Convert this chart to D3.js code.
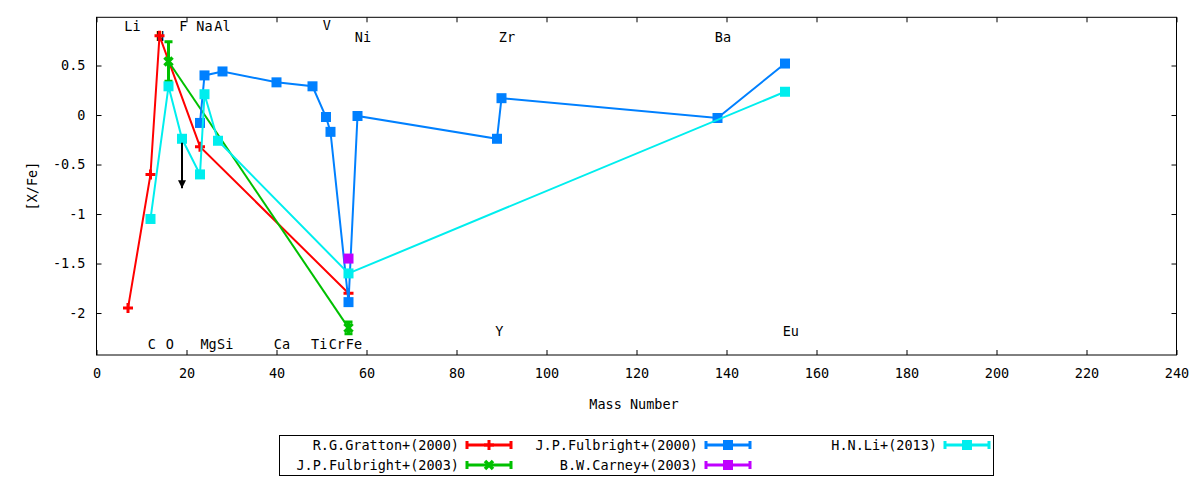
<!DOCTYPE html>
<html>
<head>
<meta charset="utf-8">
<script src="https://cdn.jsdelivr.net/npm/d3@7"></script>
<style>
  body { margin: 0; background: #fff; }
  text { font-family: "DejaVu Sans Mono", monospace; font-size: 13.5px; fill: #000; }
</style>
</head>
<body>
<script>
// Series: mass number vs [X/Fe]
var grattonMass = [7, 12, 14, 23, 56];
var grattonXFe  = [-1.95, -0.60, 0.80, -0.32, -1.80];
var grattonErr  = [0, 0, 0, 0, 0];

var fulbright03Mass = [16, 56];
var fulbright03XFe  = [0.54, -2.15];
var fulbright03Err  = [0.20, 0.06];

var fulbright00Mass = [23, 24, 28, 40, 48, 51, 52, 56, 58, 89, 90, 138, 153];
var fulbright00XFe  = [-0.08, 0.40, 0.44, 0.33, 0.29, -0.02, -0.17, -1.89, -0.01, -0.24, 0.17, -0.03, 0.52];
var fulbright00Err  = [0, 0, 0, 0, 0, 0, 0, 0, 0, 0, 0, 0, 0];

var carneyMass = [56];
var carneyXFe  = [-1.45];
var carneyErr  = [0];

var liMass = [12, 16, 19, 23, 24, 27, 56, 153];
var liXFe  = [-1.05, 0.29, -0.24, -0.60, 0.21, -0.26, -1.60, 0.235];
var liErr  = [0, 0, 0, 0, 0, 0, 0, 0];

// upper limit arrow (F, H.N.Li+2013)
var arrowMass = 19;
var arrowFrom = -0.28;
var arrowTo = -0.74;

// element labels (data coordinates)
var elemNames = ["Li", "N", "F", "Na", "Al", "V", "Ni", "Zr", "Ba",
                 "C", "O", "Mg", "Si", "Ca", "Ti", "Cr", "Fe", "Y", "Eu"];
var elemX = [8.0, 14.1, 19.3, 24.0, 28.0, 51.2, 59.2, 91.2, 139.2,
             12.3, 16.3, 24.9, 28.6, 41.2, 49.5, 53.4, 57.2, 89.5, 154.3];
var elemY = [0.90, 0.80, 0.90, 0.90, 0.90, 0.91, 0.79, 0.79, 0.79,
             -2.32, -2.32, -2.32, -2.32, -2.32, -2.32, -2.32, -2.32, -2.18, -2.18];

var xTicks = d3.range(0, 241, 20);
var yTicks = [-2, -1.5, -1, -0.5, 0, 0.5];

function init() {
    var width = 1200, height = 480;
    var left = 96.5, right = 1176.5, top = 17.3, bottom = 355;

    var svg = d3.select("body").append("svg")
        .attr("width", width)
        .attr("height", height);

    var x = d3.scaleLinear().domain([0, 240]).range([left, right]);
    var y = d3.scaleLinear().domain([-2.424, 0.987]).range([bottom, top]);

    // axes with inward ticks, mirrored on top/right
    var gx = svg.append("g").attr("transform", "translate(0," + bottom + ")")
        .call(d3.axisBottom(x).tickValues(xTicks).tickSize(-5).tickSizeOuter(0)
            .tickPadding(13).tickFormat(d => String(d)));
    var gy = svg.append("g").attr("transform", "translate(" + left + ",0)")
        .call(d3.axisLeft(y).tickValues(yTicks).tickSize(-5).tickSizeOuter(0)
            .tickPadding(11).tickFormat(d => String(d)));
    var gt = svg.append("g").attr("transform", "translate(0," + top + ")")
        .call(d3.axisTop(x).tickValues(xTicks).tickSize(-5).tickSizeOuter(0).tickFormat(""));
    var gr = svg.append("g").attr("transform", "translate(" + right + ",0)")
        .call(d3.axisRight(y).tickValues(yTicks).tickSize(-5).tickSizeOuter(0).tickFormat(""));
    [gx, gy, gt, gr].forEach(function(g) {
        g.select(".domain").remove();
        g.selectAll("line").attr("stroke", "#000");
        g.selectAll("text").attr("font-family", null).attr("font-size", null);
    });

    svg.append("rect")
        .attr("x", left).attr("y", top)
        .attr("width", right - left).attr("height", bottom - top)
        .attr("fill", "none").attr("stroke", "#000").attr("stroke-width", 1);

    // axis titles
    svg.append("text").attr("x", 634).attr("y", 404).attr("dy", "0.35em")
        .attr("text-anchor", "middle").text("Mass Number");
    svg.append("text").attr("transform", "translate(32,186) rotate(-90)")
        .attr("dy", "0.35em").attr("text-anchor", "middle").text("[X/Fe]");

    // element labels
    svg.append("g").selectAll("text")
        .data(elemNames)
        .enter().append("text")
        .attr("x", (d, i) => x(elemX[i]))
        .attr("y", (d, i) => y(elemY[i]))
        .attr("dy", "0.35em")
        .attr("text-anchor", "middle")
        .text(d => d);

    var series = [
        { name: "R.G.Gratton+(2000)",   mass: grattonMass,     xfe: grattonXFe,     err: grattonErr,     color: "#ff0000", shape: "plus" },
        { name: "J.P.Fulbright+(2003)", mass: fulbright03Mass, xfe: fulbright03XFe, err: fulbright03Err, color: "#00c000", shape: "cross" },
        { name: "J.P.Fulbright+(2000)", mass: fulbright00Mass, xfe: fulbright00XFe, err: fulbright00Err, color: "#0080ff", shape: "square" },
        { name: "B.W.Carney+(2003)",    mass: carneyMass,      xfe: carneyXFe,      err: carneyErr,      color: "#c000ff", shape: "square" },
        { name: "H.N.Li+(2013)",        mass: liMass,          xfe: liXFe,          err: liErr,          color: "#00eeee", shape: "square" }
    ];

    function drawMarker(g, shape, cx, cy, color) {
        if (shape === "square") {
            g.append("rect").attr("x", cx - 5).attr("y", cy - 5)
                .attr("width", 10).attr("height", 10).attr("fill", color);
        } else if (shape === "plus") {
            g.append("path").attr("d", "M" + (cx - 5) + "," + cy + "h10M" + cx + "," + (cy - 5) + "v10")
                .attr("stroke", color).attr("stroke-width", 3).attr("fill", "none");
        } else {
            g.append("path").attr("d", "M" + (cx - 4) + "," + (cy - 4) + "l8,8M" + (cx - 4) + "," + (cy + 4) + "l8,-8")
                .attr("stroke", color).attr("stroke-width", 3.5).attr("fill", "none");
        }
    }

    var line = d3.line().x(d => x(d[0])).y(d => y(d[1]));

    series.forEach(function(s) {
        var pts = s.mass.map((m, i) => [m, s.xfe[i], s.err[i]]);
        var g = svg.append("g");
        g.append("path").datum(pts).attr("d", line)
            .attr("fill", "none").attr("stroke", s.color).attr("stroke-width", 2);
        pts.forEach(function(p) {
            if (p[2] > 0) {
                var cx = x(p[0]), y1 = y(p[1] + p[2]), y2 = y(p[1] - p[2]);
                g.append("path")
                    .attr("d", "M" + cx + "," + y1 + "V" + y2 + "M" + (cx - 4) + "," + y1 + "h8M" + (cx - 4) + "," + y2 + "h8")
                    .attr("stroke", s.color).attr("stroke-width", 3).attr("fill", "none");
            }
            drawMarker(g, s.shape, x(p[0]), y(p[1]), s.color);
        });
    });

    // upper limit arrow
    svg.append("defs").append("marker")
        .attr("id", "head").attr("viewBox", "0 0 10 10")
        .attr("refX", 10).attr("refY", 5)
        .attr("markerWidth", 4).attr("markerHeight", 4)
        .attr("orient", "auto")
        .append("path").attr("d", "M0,0L10,5L0,10z").attr("fill", "#000");
    svg.append("line")
        .attr("x1", x(arrowMass)).attr("y1", y(arrowFrom))
        .attr("x2", x(arrowMass)).attr("y2", y(arrowTo))
        .attr("stroke", "#000").attr("stroke-width", 2)
        .attr("marker-end", "url(#head)");

    // legend
    var legend = svg.append("g");
    legend.append("rect").attr("x", 279.5).attr("y", 435.5)
        .attr("width", 714).attr("height", 40)
        .attr("fill", "none").attr("stroke", "#000");
    var colText = [459, 698, 937];
    var rowY = [445, 465];
    series.forEach(function(s, i) {
        var col = Math.floor(i / 2), row = i % 2;
        var tx = colText[col], ty = rowY[row];
        legend.append("text").attr("x", tx).attr("y", ty).attr("dy", "0.35em")
            .attr("text-anchor", "end").text(s.name);
        var x0 = tx + 8, x1 = tx + 52;
        legend.append("path")
            .attr("d", "M" + x0 + "," + ty + "H" + x1 + "M" + x0 + "," + (ty - 4) + "v8M" + x1 + "," + (ty - 4) + "v8")
            .attr("stroke", s.color).attr("stroke-width", 3).attr("fill", "none");
        drawMarker(legend, s.shape, (x0 + x1) / 2, ty, s.color);
    });
}

window.onload = init;
</script>
</body>
</html>
